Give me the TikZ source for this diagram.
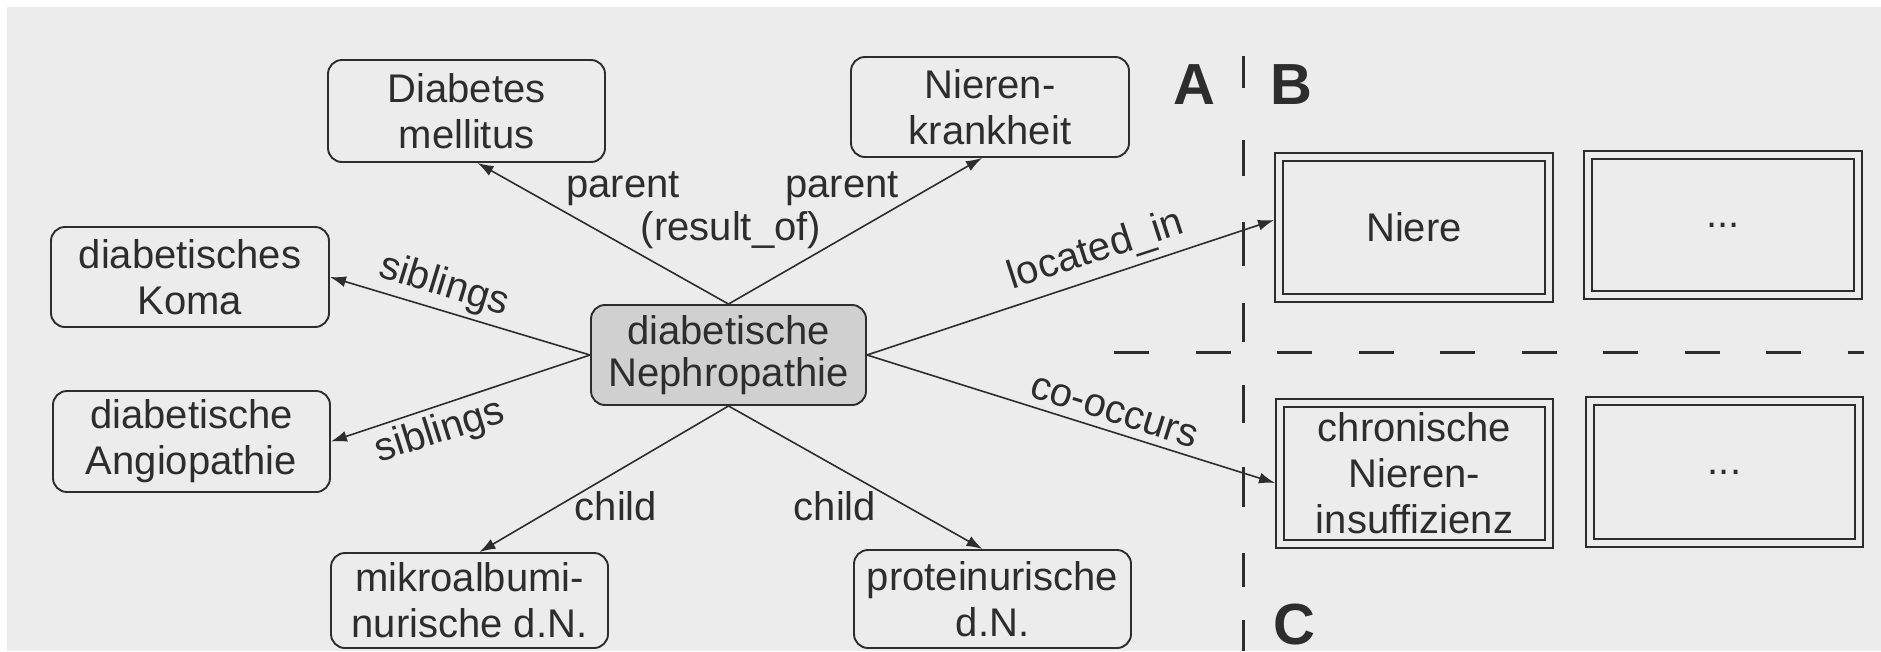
\documentclass[tikz,border=0pt]{standalone}
\usepackage{fontspec}
\setmainfont{Liberation Sans}
\usetikzlibrary{arrows.meta,calc}
\definecolor{bg}{RGB}{236,236,236}
\definecolor{ink}{RGB}{45,45,45}
\definecolor{cfill}{RGB}{208,208,208}
\tikzset{
  box/.style={draw=ink, line width=1.9pt, rounded corners=14pt, align=center,
    text=ink, inner sep=0pt, font=\fontsize{40}{46}\selectfont},
  dbox/.style={draw=ink, line width=1.9pt, align=center, text=ink, inner sep=0pt,
    font=\fontsize{40}{46}\selectfont},
  inbox/.style={draw=ink, line width=1.9pt},
  rel/.style={draw=ink, line width=1.6pt, -{Latex[length=16pt,width=11pt]}},
  lbl/.style={text=ink, inner sep=0pt, font=\fontsize{40}{46}\selectfont},
  big/.style={text=ink, inner sep=0pt, font=\fontsize{58}{62}\selectfont\bfseries},
  sep/.style={draw=ink, line width=3pt}
}
\begin{document}
\begin{tikzpicture}[x=1pt,y=-1pt]
\useasboundingbox (0,0) rectangle (1881,651);
\fill[white] (0,0) rectangle (1881,651);
\fill[bg] (7,7) rectangle (1881,651);

% concept nodes
\node[box, minimum width=277pt, minimum height=102pt] (dm) at (466.5,111) {Diabetes\\mellitus};
\node[box, minimum width=278pt, minimum height=100pt] (nk) at (990,107) {Nieren-\\krankheit};
\node[box, minimum width=278pt, minimum height=100pt] (koma) at (190,277) {diabetisches\\Koma};
\node[box, fill=cfill, minimum width=275pt, minimum height=100pt,
      font=\fontsize{40}{42}\selectfont] (dn) at (728.5,355) {diabetische\\Nephropathie};
\node[box, minimum width=277pt, minimum height=101pt] (ang) at (191.5,441.5) {diabetische\\Angiopathie};
\node[box, minimum width=277pt, minimum height=95pt] (mik) at (469.5,600.5) {mikroalbumi-\\nurische d.N.};
\node[box, minimum width=277pt, minimum height=98pt] (prot) at (992.5,599) {proteinurische\\d.N.};

% right-hand boxes
\node[dbox, minimum width=278pt, minimum height=149pt] (niere) at (1414,227.5) {Niere};
\node[dbox, minimum width=278pt, minimum height=148pt] (dotsa) at (1723,225) {...};
\node[dbox, minimum width=277pt, minimum height=149pt] (chron) at (1414.5,473.5) {chronische\\Nieren-\\insuffizienz};
\node[dbox, minimum width=277pt, minimum height=150pt] (dotsb) at (1724.5,472) {...};
\foreach \b in {niere,dotsa,chron,dotsb}{
  \draw[inbox] ([xshift=9pt,yshift=-9pt]\b.north west) rectangle ([xshift=-9pt,yshift=9pt]\b.south east);
}

% section letters and separators
\node[big] (la) at (1194,85) {A};
\node[big] (lb) at (1291,85) {B};
\node[big] (lc) at (1294,625) {C};
\foreach \a/\b in {56/88,140/176,222/266,303/342,385/423,467/507,553/587,620/651}{
  \draw[sep] (1243,\a) -- (1243,\b);
}
\draw[sep, dash pattern=on 35pt off 46.5pt] (1114,352) -- (1864,352);

% connectors
\draw[rel] (dn.north) -- ([xshift=11pt]dm.south);
\draw[rel] (dn.north) -- ([xshift=-8pt]nk.south);
\draw[rel] (dn.west) -- (koma.east);
\draw[rel] (dn.west) -- (ang.east);
\draw[rel] (dn.south) -- ([xshift=10pt]mik.north);
\draw[rel] (dn.south) -- ([xshift=-10pt]prot.north);
\draw[rel] (dn.east) -- ([yshift=7.5pt]niere.west);
\draw[rel] (dn.east) -- ([yshift=-9.5pt]chron.west);

% connector labels
\node[lbl, anchor=base] (l1) at (623,197) {parent};
\node[lbl, anchor=base] (l2) at (842,197) {parent};
\node[lbl, anchor=base] (l3) at (731,240) {(result\_of)};
\node[lbl, rotate=-17] (l4) at (444,286) {siblings};
\node[lbl, rotate=17.6] (l5) at (440,432) {siblings};
\node[lbl, anchor=base] (l6) at (616,520) {child};
\node[lbl, anchor=base] (l7) at (835,520) {child};
\node[lbl, rotate=18] (l8) at (1096,251) {located\_in};
\node[lbl, rotate=-17.4] (l9) at (1114,412) {co-occurs};
\end{tikzpicture}
\end{document}
